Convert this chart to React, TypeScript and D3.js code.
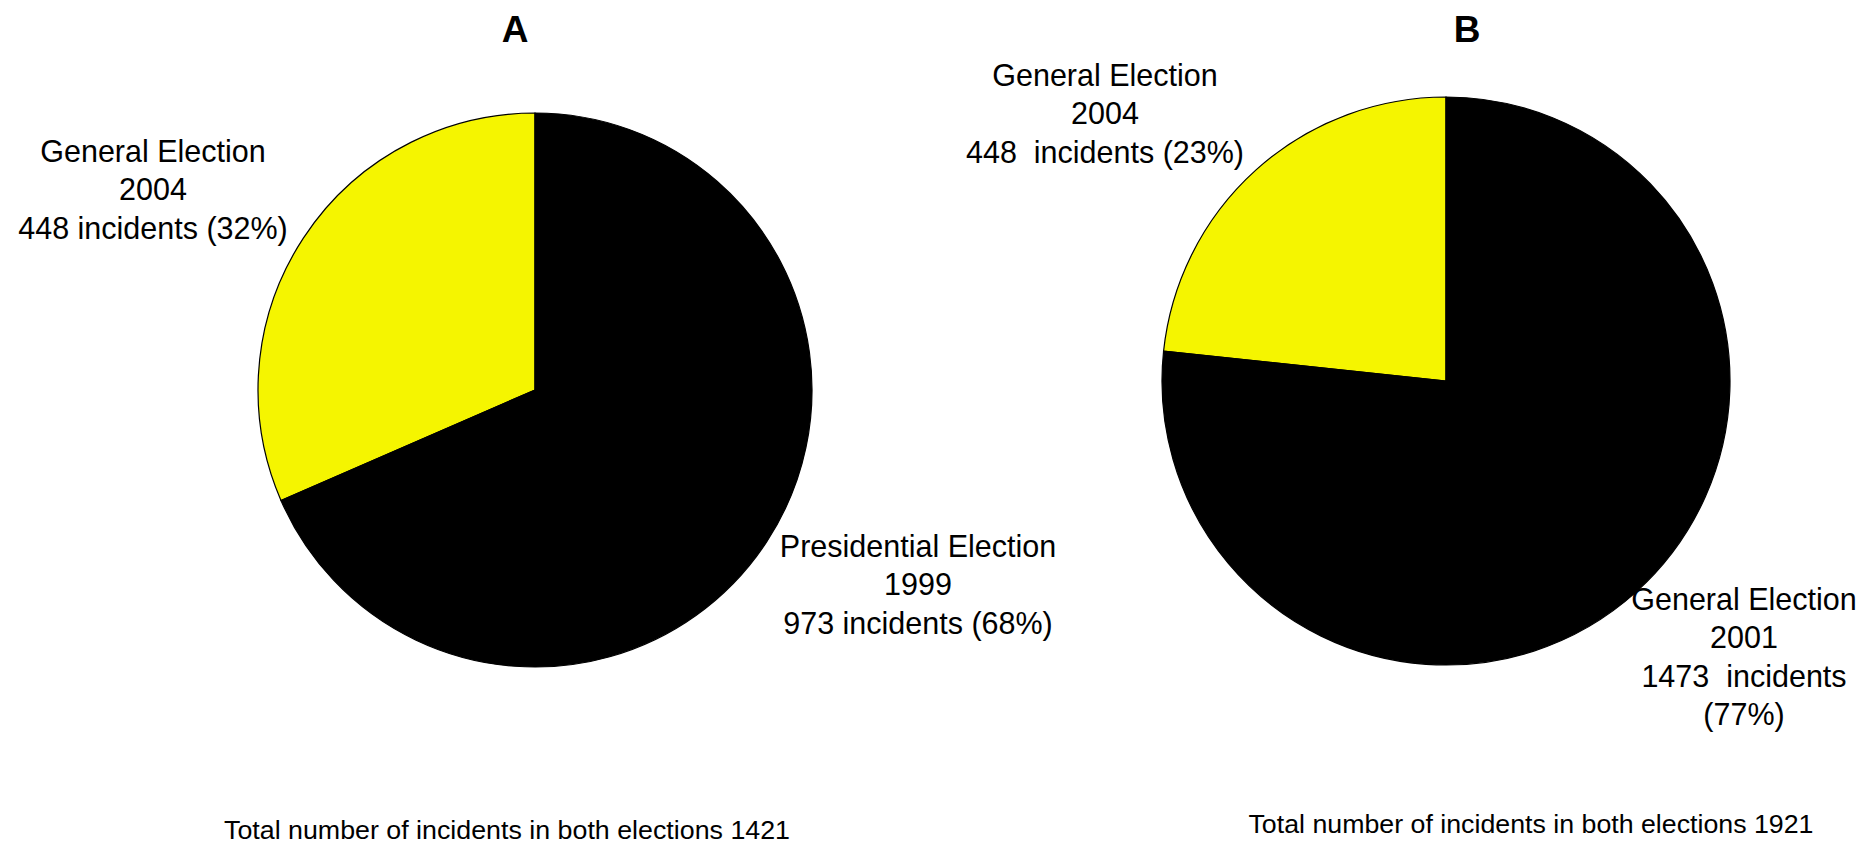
import React from "react";
import * as d3 from "d3";

const panelTitles = ["A", "B"];
const pieACategories = ["General Election 2004", "Presidential Election 1999"];
const pieAValues = [448, 973];
const pieBCategories = ["General Election 2004", "General Election 2001"];
const pieBValues = [448, 1473];
const sliceColors = ["#f5f500", "#000000"];
const pieALabelLines = [
  ["General Election", "2004", "448 incidents (32%)"],
  ["Presidential Election", "1999", "973 incidents (68%)"],
];
const pieBLabelLines = [
  ["General Election", "2004", "448  incidents (23%)"],
  ["General Election", "2001", "1473  incidents", "(77%)"],
];
const footerTexts = [
  "Total number of incidents in both elections 1421",
  "Total number of incidents in both elections 1921",
];

const FONT = "'Liberation Sans', Arial, Helvetica, sans-serif";

type PanelProps = {
  values: number[];
  cats: string[];
  cx: number;
  cy: number;
  r: number;
  labels: string[][];
  labelPos: [number, number][];
  title: string;
  titlePos: [number, number];
  footer: string;
  footerPos: [number, number, number];
};

function Panel(p: PanelProps) {
  const pie = d3
    .pie<number>()
    .sort(null)
    .startAngle(0)
    .endAngle(-2 * Math.PI);
  const arcs = pie(p.values);
  const arc = d3.arc<d3.PieArcDatum<number>>().innerRadius(0).outerRadius(p.r);
  const lh = 38.3;
  return (
    <g>
      <text
        x={p.titlePos[0]}
        y={p.titlePos[1]}
        textAnchor="middle"
        fontFamily={FONT}
        fontWeight="bold"
        fontSize={37}
      >
        {p.title}
      </text>
      <g transform={`translate(${p.cx},${p.cy})`}>
        {arcs.map((a, i) => (
          <path
            key={p.cats[i]}
            d={arc(a) || ""}
            fill={sliceColors[i]}
            stroke="#000"
            strokeWidth={1.2}
          />
        ))}
      </g>
      {p.labels.map((lines, i) => (
        <text
          key={i}
          textAnchor="middle"
          fontFamily={FONT}
          fontSize={30.5}
          fill="#000"
        >
          {lines.map((ln, j) => (
            <tspan
              key={j}
              x={p.labelPos[i][0]}
              y={p.labelPos[i][1] + j * lh}
              style={{ whiteSpace: "pre" }}
            >
              {ln}
            </tspan>
          ))}
        </text>
      ))}
      <text
        x={p.footerPos[0]}
        y={p.footerPos[1]}
        textAnchor="middle"
        fontFamily={FONT}
        fontSize={25}
        textLength={p.footerPos[2]}
        lengthAdjust="spacingAndGlyphs"
        fill="#000"
      >
        {p.footer}
      </text>
    </g>
  );
}

export default function App() {
  return (
    <svg
      width={1874}
      height={845}
      style={{ position: "absolute", left: 0, top: 0, background: "#fff" }}
    >
      <rect width={1874} height={845} fill="#fff" />
      <Panel
        values={pieAValues}
        cats={pieACategories}
        cx={535}
        cy={390}
        r={277}
        labels={pieALabelLines}
        labelPos={[
          [153, 162],
          [918, 557],
        ]}
        title={panelTitles[0]}
        titlePos={[515, 42]}
        footer={footerTexts[0]}
        footerPos={[507, 839, 566]}
      />
      <Panel
        values={pieBValues}
        cats={pieBCategories}
        cx={1446}
        cy={381}
        r={284}
        labels={pieBLabelLines}
        labelPos={[
          [1105, 86],
          [1744, 610],
        ]}
        title={panelTitles[1]}
        titlePos={[1467, 42]}
        footer={footerTexts[1]}
        footerPos={[1531, 833, 565]}
      />
    </svg>
  );
}
